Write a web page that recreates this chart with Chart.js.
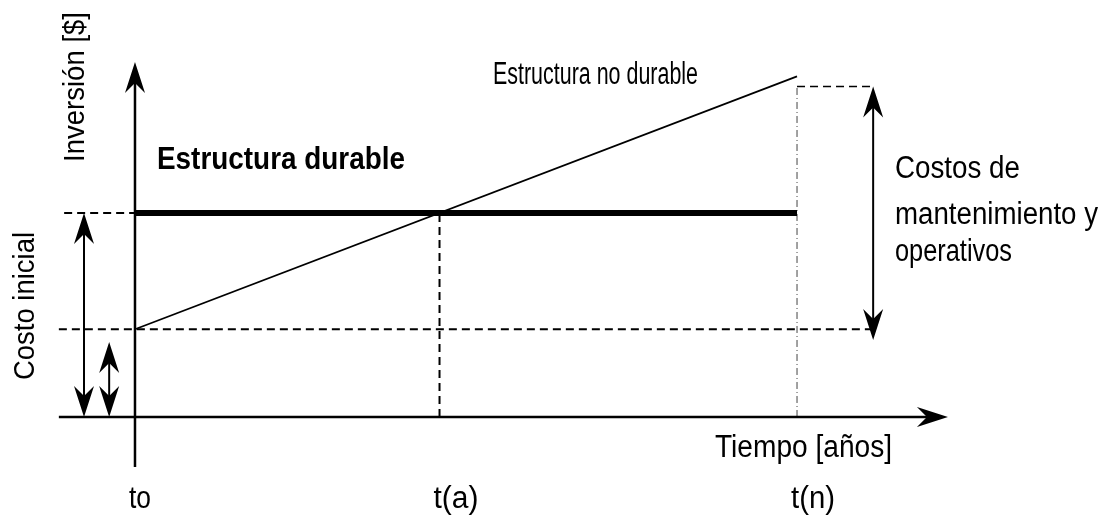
<!DOCTYPE html>
<html>
<head>
<meta charset="utf-8">
<script src="https://cdn.jsdelivr.net/npm/chart.js@4/dist/chart.umd.min.js"></script>
<style>
  html, body { margin: 0; padding: 0; background: #ffffff; }
  #wrap { width: 1104px; height: 515px; }
</style>
</head>
<body>
<div id="wrap"><canvas id="grafico" width="1104" height="515"></canvas></div>
<script>
// Datos del esquema (tiempo en años relativos, inversión en unidades relativas)
const tiempo = [0, 10];            // to, t(n)
const durable = [100, 100];        // estructura durable
const noDurable = [43, 167];       // estructura no durable
const tA = 4.6;                    // t(a): cruce de ambas estructuras
const topeCostos = 162;            // tope de los costos de mantenimiento
const xTicks = [0, tA, 10];
const xTickLabels = ["to", "t(a)", "t(n)"];

const FUENTE = "'Liberation Sans', Arial, sans-serif";

// Punta de flecha con muesca
function puntaFlecha(ctx, x, y, dx, dy) {
  const largo = 31, medio = 10, muesca = 10;
  const px = -dy, py = dx;
  ctx.beginPath();
  ctx.moveTo(x, y);
  ctx.lineTo(x - dx * largo + px * medio, y - dy * largo + py * medio);
  ctx.lineTo(x - dx * (largo - muesca), y - dy * (largo - muesca));
  ctx.lineTo(x - dx * largo - px * medio, y - dy * largo - py * medio);
  ctx.closePath();
  ctx.fill();
}

function flechaDoble(ctx, x, y0, y1) {
  ctx.beginPath();
  ctx.moveTo(x, y0 - 10);
  ctx.lineTo(x, y1 + 10);
  ctx.stroke();
  puntaFlecha(ctx, x, y1, 0, -1);
  puntaFlecha(ctx, x, y0, 0, 1);
}

// Texto estrecho: se comprime en horizontal hasta el ancho indicado
function texto(ctx, str, x, y, ancho, opts = {}) {
  ctx.save();
  ctx.font = (opts.bold ? "bold " : "") + (opts.size || 31) + "px " + FUENTE;
  ctx.fillStyle = "#000";
  ctx.textBaseline = "alphabetic";
  ctx.textAlign = "left";
  const medida = ctx.measureText(str).width;
  ctx.translate(x, y);
  if (opts.rot) ctx.rotate(opts.rot);
  ctx.scale(ancho / medida, 1);
  ctx.fillText(str, 0, 0);
  ctx.restore();
}

const esquema = {
  id: "esquema",
  afterDatasetsDraw(chart) {
    const { ctx, scales: { x, y } } = chart;
    const X = (v) => x.getPixelForValue(v);
    const Y = (v) => y.getPixelForValue(v);
    ctx.save();
    ctx.strokeStyle = "#000";
    ctx.fillStyle = "#000";
    ctx.lineWidth = 2.5;

    // Ejes
    ctx.beginPath();
    ctx.moveTo(X(0), Y(-24.5));
    ctx.lineTo(X(0), Y(170) + 10);
    ctx.moveTo(X(-1.15), Y(0));
    ctx.lineTo(X(12.28) - 10, Y(0));
    ctx.stroke();
    puntaFlecha(ctx, X(0), Y(174), 0, -1);
    puntaFlecha(ctx, X(12.28), Y(0), 1, 0);

    // Flechas de costos
    ctx.lineWidth = 2;
    flechaDoble(ctx, X(-0.77), Y(0), Y(durable[0]));
    flechaDoble(ctx, X(-0.39), Y(0), Y(36.8));
    flechaDoble(ctx, X(11.15), Y(37.7), Y(topeCostos));

    // Textos
    texto(ctx, "Inversión [$]", 84, 162, 150, { size: 30, rot: -Math.PI / 2 });
    texto(ctx, "Costo inicial", 34, 380, 148, { size: 30, rot: -Math.PI / 2 });
    texto(ctx, "Estructura durable", 157, 169, 248, { bold: true, size: 31 });
    texto(ctx, "Estructura no durable", 493, 84, 205);
    texto(ctx, "Costos de", 895, 178, 125);
    texto(ctx, "mantenimiento y", 895, 224, 203);
    texto(ctx, "operativos", 895, 261, 117);
    texto(ctx, "Tiempo [años]", 715, 457, 177);
    const anchos = [22, 45, 44];
    xTicks.forEach((v, i) => {
      texto(ctx, xTickLabels[i], X(v) - 6, 508, anchos[i]);
    });
    ctx.restore();
  },
};

const guia = { borderColor: "#000", borderWidth: 2, borderDash: [8, 5], pointRadius: 0, showLine: true, fill: false };

new Chart(document.getElementById("grafico"), {
  type: "scatter",
  data: {
    datasets: [
      {
        label: "Estructura durable",
        data: tiempo.map((t, i) => ({ x: t, y: durable[i] })),
        borderColor: "#000", borderWidth: 6, pointRadius: 0, showLine: true,
      },
      {
        label: "Estructura no durable",
        data: tiempo.map((t, i) => ({ x: t, y: noDurable[i] })),
        borderColor: "#000", borderWidth: 1.8, pointRadius: 0, showLine: true,
      },
      { ...guia, data: [{ x: -1.07, y: durable[0] }, { x: 0, y: durable[0] }] },
      { ...guia, data: [{ x: -1.15, y: noDurable[0] }, { x: 11.15, y: noDurable[0] }] },
      { ...guia, data: [{ x: tA, y: 0 }, { x: tA, y: durable[0] }] },
      { ...guia, borderWidth: 1.5, data: [{ x: tiempo[1], y: topeCostos }, { x: 11.15, y: topeCostos }] },
      {
        ...guia, borderWidth: 1, borderColor: "#444", borderDash: [7, 3, 1, 3],
        data: [{ x: tiempo[1], y: 0 }, { x: tiempo[1], y: topeCostos }],
      },
    ],
  },
  options: {
    responsive: false,
    animation: false,
    layout: { padding: 0 },
    scales: {
      x: { type: "linear", min: -2.039, max: 14.637, display: false },
      y: { type: "linear", min: -48.04, max: 204.4, display: false },
    },
    plugins: { legend: { display: false }, tooltip: { enabled: false } },
  },
  plugins: [esquema],
});
</script>
</body>
</html>
